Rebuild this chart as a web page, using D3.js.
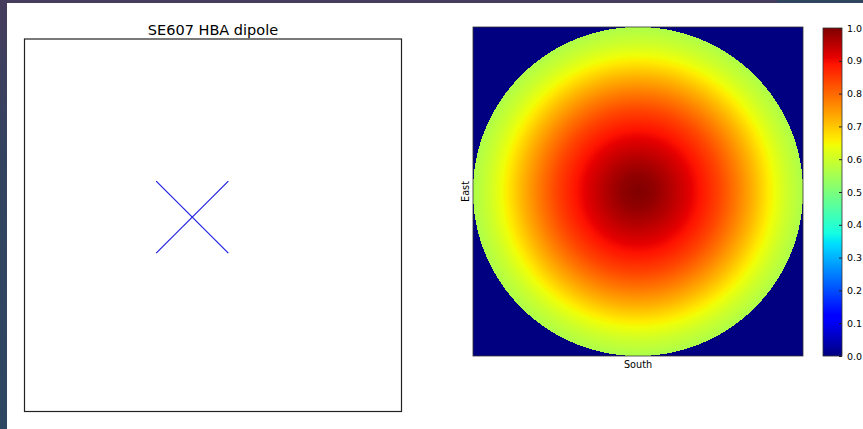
<!DOCTYPE html>
<html>
<head>
<meta charset="utf-8">
<script src="https://cdn.jsdelivr.net/npm/d3@7"></script>
<style>
  html, body { margin: 0; padding: 0; background: #ffffff; }
  svg { display: block; }
  text { font-family: "DejaVu Sans", sans-serif; fill: #000; }
</style>
</head>
<body>
<script>
// Dipole element layout (metres from tile centre): two crossed arms
const dipoleArms = [
  { name: "X", x: [-1, 1], y: [-1, 1] },
  { name: "Y", x: [-1, 1], y: [1, -1] }
];
// Plot extent of the layout panel
const layoutXDomain = [-4.65, 5.8];
const layoutYDomain = [-5.4, 4.95];

// Normalised beam power vs. normalised radius from zenith (0 = zenith, 1 = horizon)
const beamRadius = [0, 0.1, 0.2, 0.3, 0.4, 0.5, 0.6, 0.7, 0.8, 0.9, 1.0];
const beamPower  = [1.0, 0.985, 0.955, 0.92, 0.88, 0.835, 0.78, 0.72, 0.655, 0.6, 0.56];

// Colour bar ticks
const cbarTicks = [0.0, 0.1, 0.2, 0.3, 0.4, 0.5, 0.6, 0.7, 0.8, 0.9, 1.0];

const W = 863, H = 429;
const svg = d3.select("body").append("svg").attr("width", W).attr("height", H);

// Page frame
const defs = svg.append("defs");
const lg = defs.append("linearGradient").attr("id", "edge").attr("x1", 0).attr("y1", 0).attr("x2", 0).attr("y2", 1);
lg.append("stop").attr("offset", "0%").attr("stop-color", "#463c5d");
lg.append("stop").attr("offset", "35%").attr("stop-color", "#33435f");
lg.append("stop").attr("offset", "100%").attr("stop-color", "#2d4763");
svg.append("rect").attr("x", 0).attr("y", 0).attr("width", 7).attr("height", H).attr("fill", "url(#edge)");
svg.append("rect").attr("x", 0).attr("y", 0).attr("width", 777).attr("height", 3).attr("fill", "#463c5d");
svg.append("rect").attr("x", 777).attr("y", 0).attr("width", W - 777).attr("height", 3).attr("fill", "#2f4560");

// ---------- Left panel: dipole layout ----------
const L = { x0: 24.5, x1: 401.5, y0: 39, y1: 411.5 };
const lx = d3.scaleLinear().domain(layoutXDomain).range([L.x0, L.x1]);
const ly = d3.scaleLinear().domain(layoutYDomain).range([L.y1, L.y0]);

svg.append("text")
  .attr("x", (L.x0 + L.x1) / 2).attr("y", 35)
  .attr("text-anchor", "middle")
  .style("font-size", "14.5px")
  .text("SE607 HBA dipole");

svg.append("g").selectAll("line").data(dipoleArms).join("line")
  .attr("x1", d => lx(d.x[0])).attr("y1", d => ly(d.y[0]))
  .attr("x2", d => lx(d.x[1])).attr("y2", d => ly(d.y[1]))
  .attr("stroke", "#2020e0").attr("stroke-width", 1.2);

svg.append("rect")
  .attr("x", L.x0).attr("y", L.y0)
  .attr("width", L.x1 - L.x0).attr("height", L.y1 - L.y0)
  .attr("fill", "none").attr("stroke", "#222").attr("stroke-width", 1.2);

// ---------- Jet colour map ----------
const jr = d3.scaleLinear().domain([0, 0.35, 0.66, 0.89, 1]).range([0, 0, 1, 1, 0.5]).clamp(true);
const jg = d3.scaleLinear().domain([0, 0.125, 0.375, 0.64, 0.91, 1]).range([0, 0, 1, 1, 0, 0]).clamp(true);
const jb = d3.scaleLinear().domain([0, 0.11, 0.34, 0.65, 1]).range([0.5, 1, 1, 0, 0]).clamp(true);
const jet = v => [jr(v) * 255, jg(v) * 255, jb(v) * 255];

// ---------- Right panel: beam map ----------
const R = { x0: 473, x1: 803, y0: 27, y1: 356 };
const pw = Math.round(R.x1 - R.x0), ph = Math.round(R.y1 - R.y0);
const profile = d3.scaleLinear().domain(beamRadius).range(beamPower).clamp(true);
const mx = d3.scaleLinear().domain([-1, 1]).range([0, pw]);
const my = d3.scaleLinear().domain([1, -1]).range([0, ph]);

const canvas = document.createElement("canvas");
canvas.width = pw; canvas.height = ph;
const ctx = canvas.getContext("2d");
const img = ctx.createImageData(pw, ph);
for (let j = 0; j < ph; j++) {
  const v = my.invert(j + 0.5);
  for (let i = 0; i < pw; i++) {
    const u = mx.invert(i + 0.5);
    const r = Math.sqrt(u * u + v * v);
    const val = r <= 1 ? profile(r) : 0;
    const c = jet(val);
    const k = (j * pw + i) * 4;
    img.data[k] = c[0]; img.data[k + 1] = c[1]; img.data[k + 2] = c[2]; img.data[k + 3] = 255;
  }
}
ctx.putImageData(img, 0, 0);
svg.append("image")
  .attr("x", R.x0).attr("y", R.y0).attr("width", pw).attr("height", ph)
  .attr("href", canvas.toDataURL());
svg.append("rect")
  .attr("x", R.x0).attr("y", R.y0).attr("width", pw).attr("height", ph)
  .attr("fill", "none").attr("stroke", "#333").attr("stroke-width", 0.8);

svg.append("text")
  .attr("x", (R.x0 + R.x1) / 2).attr("y", 368)
  .attr("text-anchor", "middle").style("font-size", "9.7px")
  .text("South");
svg.append("text")
  .attr("transform", `translate(469,${(R.y0 + R.y1) / 2}) rotate(-90)`)
  .attr("text-anchor", "middle").style("font-size", "9.7px")
  .text("East");

// ---------- Colour bar ----------
const C = { x0: 823, x1: 842, y0: 28, y1: 356 };
const cy = d3.scaleLinear().domain([0, 1]).range([C.y1, C.y0]);
const steps = d3.range(C.y0, C.y1, 1);
svg.append("g").selectAll("rect").data(steps).join("rect")
  .attr("x", C.x0).attr("y", d => d).attr("width", C.x1 - C.x0).attr("height", 1.05)
  .attr("fill", d => { const c = jet(cy.invert(d + 0.5)); return `rgb(${c[0]},${c[1]},${c[2]})`; });
svg.append("rect")
  .attr("x", C.x0).attr("y", C.y0).attr("width", C.x1 - C.x0).attr("height", C.y1 - C.y0)
  .attr("fill", "none").attr("stroke", "#333").attr("stroke-width", 0.8);

const cAxis = d3.axisRight(cy).tickValues(cbarTicks).tickFormat(d3.format(".1f"))
  .tickSizeInner(-3).tickSizeOuter(0).tickPadding(5);
const cg = svg.append("g").attr("transform", `translate(${C.x1},0)`).call(cAxis);
cg.select(".domain").remove();
cg.selectAll(".tick line").attr("stroke", "#222");
cg.selectAll(".tick text").style("font-size", "9.5px").attr("font-family", "DejaVu Sans").attr("fill", "#000");
</script>
</body>
</html>
